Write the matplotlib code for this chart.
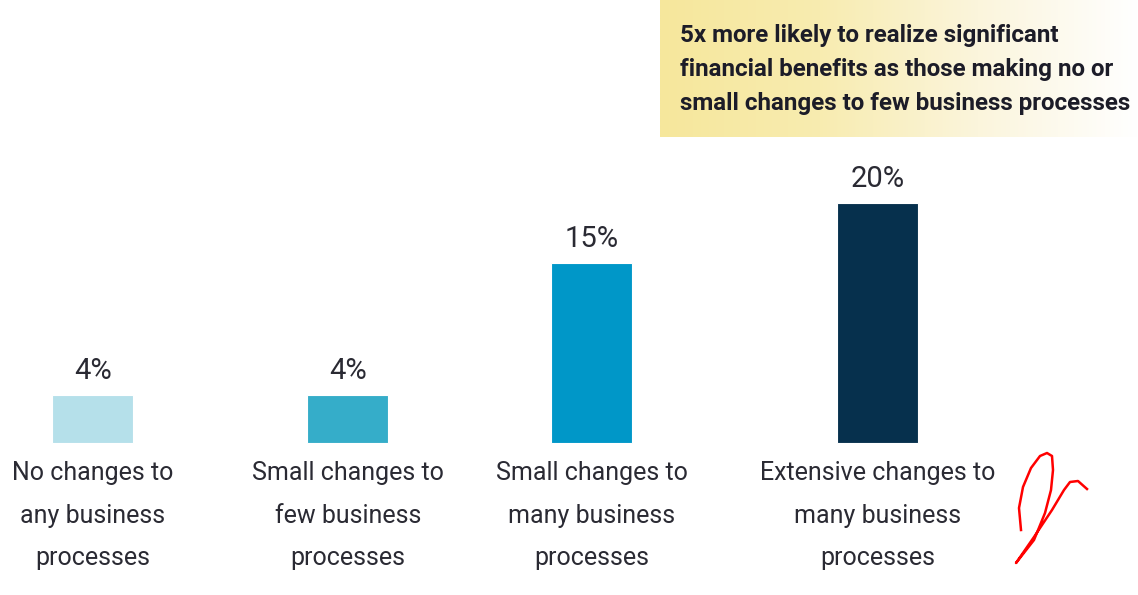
import numpy as np
import matplotlib
matplotlib.use("Agg")
import matplotlib.pyplot as plt

# Data
categories = [
    "No changes to\nany business\nprocesses",
    "Small changes to\nfew business\nprocesses",
    "Small changes to\nmany business\nprocesses",
    "Extensive changes to\nmany business\nprocesses",
]
values = [4, 4, 15, 20]
value_labels = ["4%", "4%", "15%", "20%"]
bar_colors = ["#b5e0ea", "#35adc9", "#0097c8", "#06304d"]
callout = ("5x more likely to realize significant\n"
           "financial benefits as those making no or\n"
           "small changes to few business processes")

# Layout (pixel space of the 1138x595 canvas)
W, H = 1138, 595
x_pos = [93, 348, 592, 878]
bar_w = 81
baseline_px = 152  # from bottom
px_per_pct = 12

plt.rcParams['font.family'] = ['Roboto', 'DejaVu Sans']

fig = plt.figure(figsize=(W / 100, H / 100), dpi=100)
ax = fig.add_axes([0, 0, 1, 1])
ax.set_xlim(0, W)
ax.set_ylim(-baseline_px / px_per_pct, (H - baseline_px) / px_per_pct)
ax.axis("off")

ax.bar(x_pos, values, width=bar_w, color=bar_colors, edgecolor="white", linewidth=0.8)

for x, v, lab in zip(x_pos, values, value_labels):
    ax.text(x, v + 0.8, lab, ha="center", va="bottom", fontsize=21, color="#2a2a33")

for x, c in zip(x_pos, categories):
    ax.text(x, -1.5, c, ha="center", va="top", fontsize=18, color="#2a2a33",
            linespacing=1.98)

# Callout box with yellow-to-white gradient
grad = np.linspace(0, 1, 256).reshape(1, -1)
cmap = matplotlib.colors.LinearSegmentedColormap.from_list(
    "y", ["#f6e79c", "#f8ecb0", "#fbf5dc", "#ffffff"])
box = fig.add_axes([660 / W, 1 - 137 / H, (W - 660) / W, 137 / H])
box.imshow(grad, aspect="auto", cmap=cmap, extent=[0, 1, 0, 1])
box.axis("off")
fig.text(680 / W, 1 - 24 / H, callout, ha="left", va="top", fontsize=17.4,
         fontweight="bold", color="#1c1c28", linespacing=1.6)

# Red hand-drawn tick mark
scribble = np.array([(1021, 530), (1019, 508), (1023, 487), (1031, 468), (1040, 456),
                     (1047, 453), (1052, 456), (1053, 470), (1051, 490), (1045, 513),
                     (1034, 540), (1016, 563), (1034, 537), (1052, 510), (1064, 490),
                     (1070, 482), (1078, 481), (1087, 489)])
fig.add_artist(plt.Line2D(scribble[:, 0] / W, 1 - scribble[:, 1] / H, color="red",
                          linewidth=1.8, solid_joinstyle="round", transform=fig.transFigure))

fig.savefig("out.png", dpi=100)
